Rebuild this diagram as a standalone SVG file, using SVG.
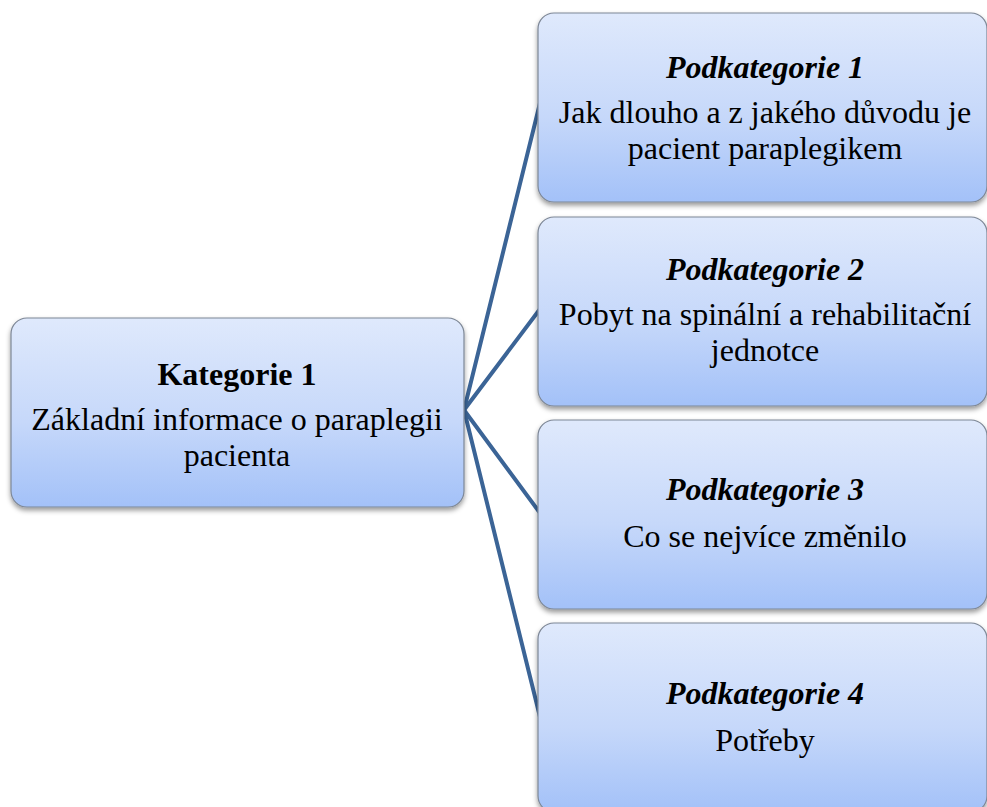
<svg xmlns="http://www.w3.org/2000/svg" width="987" height="807" viewBox="0 0 987 807">
  <style>
    .box { fill: url(#boxFill); stroke: #7d8796; stroke-width: 1.2; filter: url(#shadow); }
    .link { stroke: #3b6496; stroke-width: 4; fill: none; stroke-linecap: round; }
    text { font-family: "Liberation Serif", "Times New Roman", serif; font-size: 32px; fill: #000; text-anchor: middle; }
    .head { font-weight: bold; }
    .sub { font-weight: bold; font-style: italic; }
  </style>
  <defs>
    <linearGradient id="boxFill" x1="0" y1="0" x2="0" y2="1">
      <stop offset="0" stop-color="#dfe9fc"/>
      <stop offset="0.55" stop-color="#c6d8fa"/>
      <stop offset="1" stop-color="#a3c1f8"/>
    </linearGradient>
    <filter id="shadow" x="-10%" y="-10%" width="120%" height="130%">
      <feDropShadow dx="0" dy="3" stdDeviation="2.5" flood-color="#000" flood-opacity="0.4"/>
    </filter>
  </defs>

  <!-- connectors from the category to each subcategory -->
  <g id="connectors">
    <line class="link" x1="464" y1="410" x2="540" y2="103"/>
    <line class="link" x1="464" y1="410" x2="540" y2="309"/>
    <line class="link" x1="464" y1="410" x2="540" y2="513"/>
    <line class="link" x1="464" y1="410" x2="540" y2="717"/>
  </g>

  <g id="kategorie-1">
    <rect class="box" x="11" y="318" width="453" height="189" rx="16"/>
    <text class="head" x="237" y="385">Kategorie 1</text>
    <text x="237" y="430">Základní informace o paraplegii</text>
    <text x="237" y="466">pacienta</text>
  </g>

  <g id="podkategorie-1">
    <rect class="box" x="538" y="13" width="449" height="189" rx="16"/>
    <text class="sub" x="765" y="78">Podkategorie 1</text>
    <text x="765" y="123">Jak dlouho a z jakého důvodu je</text>
    <text x="765" y="159">pacient paraplegikem</text>
  </g>

  <g id="podkategorie-2">
    <rect class="box" x="538" y="217" width="449" height="189" rx="16"/>
    <text class="sub" x="765" y="280">Podkategorie 2</text>
    <text x="765" y="325">Pobyt na spinální a rehabilitační</text>
    <text x="765" y="361">jednotce</text>
  </g>

  <g id="podkategorie-3">
    <rect class="box" x="538" y="420" width="449" height="189" rx="16"/>
    <text class="sub" x="765" y="500">Podkategorie 3</text>
    <text x="765" y="547">Co se nejvíce změnilo</text>
  </g>

  <g id="podkategorie-4">
    <rect class="box" x="538" y="623" width="449" height="189" rx="16"/>
    <text class="sub" x="765" y="704">Podkategorie 4</text>
    <text x="765" y="751">Potřeby</text>
  </g>
</svg>
